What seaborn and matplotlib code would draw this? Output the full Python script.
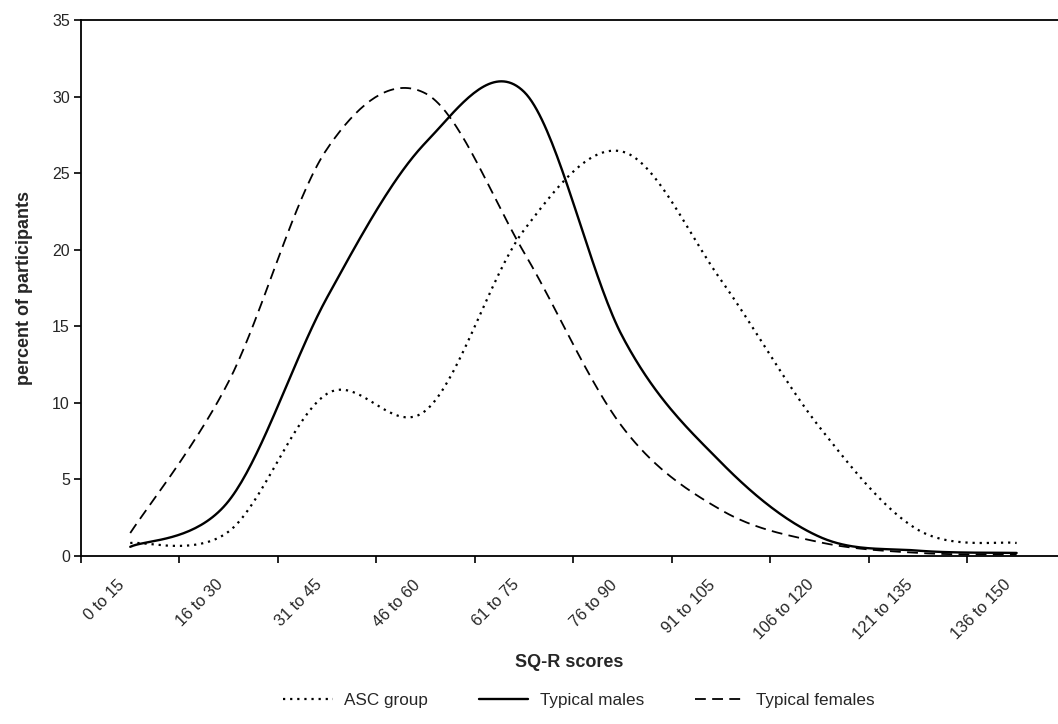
import numpy as np
import pandas as pd
import matplotlib
matplotlib.use("Agg")
import matplotlib.pyplot as plt
import seaborn as sns
from matplotlib.ticker import FixedLocator, NullFormatter

sns.set_style("white")
plt.rcParams['font.family'] = ['Liberation Sans', 'DejaVu Sans']

categories = ["0 to 15", "16 to 30", "31 to 45", "46 to 60", "61 to 75",
              "76 to 90", "91 to 105", "106 to 120", "121 to 135", "136 to 150"]
asc_group = [0.85, 1.6, 10.6, 9.5, 21.3, 26.4, 18.0, 8.4, 1.7, 0.85]
typical_males = [0.6, 3.6, 16.9, 27.0, 30.3, 14.3, 6.1, 1.25, 0.35, 0.2]
typical_females = [1.5, 11.4, 26.6, 30.2, 19.8, 8.4, 3.0, 0.9, 0.2, 0.1]


def smooth(values, n=40):
    """Excel-style smoothed line (Catmull-Rom Bezier) through the points."""
    y = np.asarray(values, float)
    x = np.arange(len(y), dtype=float)
    P = np.column_stack([x, y])
    out = []
    t = np.linspace(0, 1, n)[:, None]
    for i in range(len(P) - 1):
        p_prev = P[i - 1] if i > 0 else P[i]
        p_next = P[i + 2] if i + 2 < len(P) else P[i + 1]
        c1 = P[i] + (P[i + 1] - p_prev) / 6
        c2 = P[i + 1] - (p_next - P[i]) / 6
        seg = ((1 - t) ** 3) * P[i] + 3 * ((1 - t) ** 2) * t * c1 \
            + 3 * (1 - t) * t ** 2 * c2 + t ** 3 * P[i + 1]
        out.append(seg if i == 0 else seg[1:])
    out = np.vstack(out)
    return out[:, 0], out[:, 1]


fig = plt.figure(figsize=(10.58, 7.24), dpi=100)
ax = fig.add_axes([81 / 1058, 1 - 556 / 724, 1 - 81 / 1058, (556 - 20) / 724])

series = [
    ("ASC group", asc_group, (0, (1, 2.2)), 1.6),
    ("Typical males", typical_males, "-", 1.7),
    ("Typical females", typical_females, (0, (6, 3.5)), 1.3),
]
for name, vals, ls, lw in series:
    xs, ys = smooth(vals)
    df = pd.DataFrame({"x": xs, "y": ys})
    sns.lineplot(data=df, x="x", y="y", ax=ax, color="black", linestyle=ls,
                 linewidth=lw, sort=False, estimator=None, label=name)

ax.set_xlim(-0.5, 9.42)
ax.set_ylim(0, 35)
ax.set_yticks(np.arange(0, 36, 5))
# labels are anchored slightly left of each category centre
ax.set_xticks(np.arange(len(categories)) - 0.08)
ax.set_xticklabels(categories, rotation=45, ha="right", va="center",
                   rotation_mode="anchor", fontsize=11.8)
ax.xaxis.set_minor_locator(FixedLocator(np.arange(-0.5, 9.6, 1.0)))
ax.xaxis.set_minor_formatter(NullFormatter())
ax.tick_params(axis="x", which="major", length=0, pad=19)
ax.tick_params(axis="x", which="minor", length=5, width=1.2, color="black",
               direction="out", bottom=True)
ax.tick_params(axis="y", length=5, width=1.2, color="black", direction="out",
               left=True, labelsize=11.5, pad=3)

for s in ["left", "bottom", "top"]:
    ax.spines[s].set_color("black")
    ax.spines[s].set_linewidth(1.3)
ax.spines["right"].set_visible(False)

ax.set_xlabel("SQ-R scores", fontsize=13, fontweight="bold", labelpad=8)
ax.set_ylabel("percent of participants", fontsize=13, fontweight="bold",
              labelpad=14)

handles, labels = ax.get_legend_handles_labels()
ax.get_legend().remove()
fig.legend(handles, labels, loc="center", bbox_to_anchor=(0.547, 0.032),
           ncol=3, frameon=False, fontsize=12.3, handlelength=2.9,
           columnspacing=3.0, handletextpad=0.65)

fig.savefig("out.png", dpi=100)
